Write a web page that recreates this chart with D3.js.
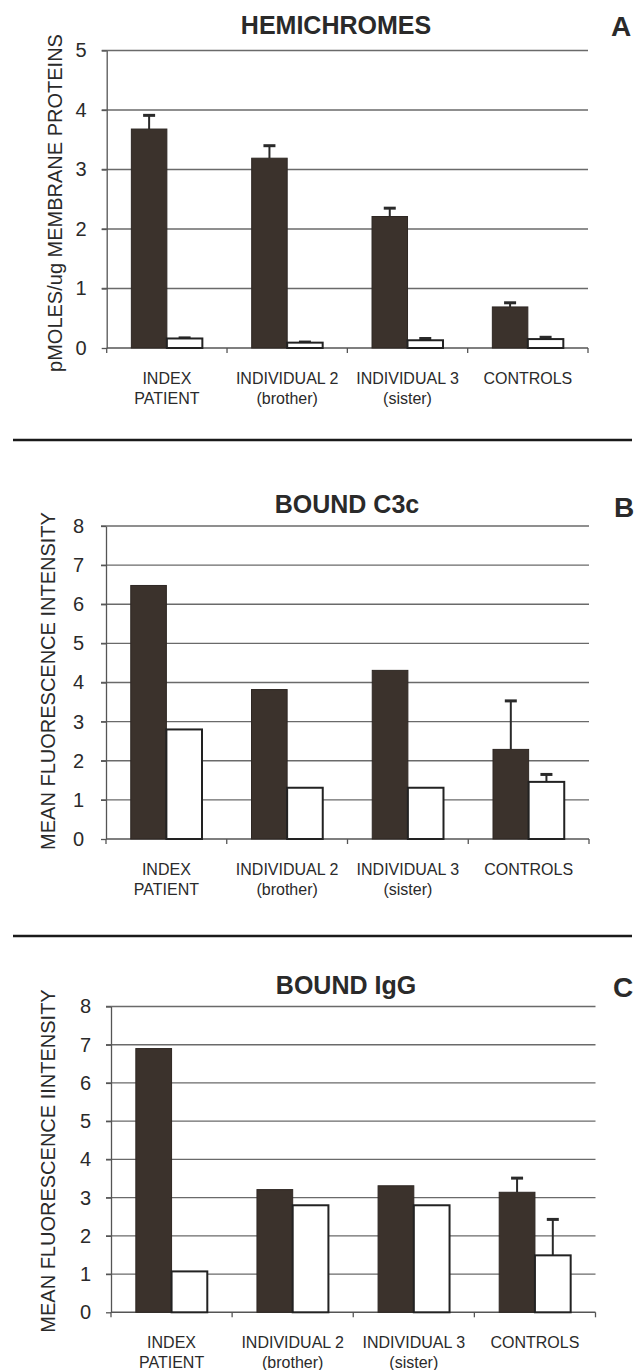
<!DOCTYPE html>
<html>
<head>
<meta charset="utf-8">
<script src="https://cdn.jsdelivr.net/npm/d3@7"></script>
<style>
  html, body { margin: 0; padding: 0; background: #fff; }
  svg { display: block; }
  text { font-family: "Liberation Sans", Arial, Helvetica, sans-serif; fill: #2a2a2a; }
</style>
</head>
<body>
<svg id="chart" width="641" height="1370"></svg>
<script>
// ---------- data ----------
const categories = ["INDEX", "INDIVIDUAL 2", "INDIVIDUAL 3", "CONTROLS"];
const categorySub = ["PATIENT", "(brother)", "(sister)", ""];
const series = ["dark", "white"];

const panelTitles = ["HEMICHROMES", "BOUND C3c", "BOUND IgG"];
const panelLetters = ["A", "B", "C"];
const yLabels = ["pMOLES/ug MEMBRANE PROTEINS", "MEAN FLUORESCENCE INTENSITY", "MEAN FLUORESCENCE IINTENSITY"];
const yMaxes = [5, 8, 8];

const hemiDark = [3.68, 3.19, 2.21, 0.69];
const hemiDarkErr = [0.23, 0.21, 0.14, 0.07];
const hemiWhite = [0.16, 0.09, 0.13, 0.15];
const hemiWhiteErr = [0.01, 0.01, 0.03, 0.03];

const c3Dark = [6.48, 3.82, 4.31, 2.29];
const c3DarkErr = [0, 0, 0, 1.24];
const c3White = [2.80, 1.31, 1.31, 1.46];
const c3WhiteErr = [0, 0, 0, 0.19];

const iggDark = [6.90, 3.21, 3.31, 3.14];
const iggDarkErr = [0, 0, 0, 0.37];
const iggWhite = [1.07, 2.80, 2.80, 1.49];
const iggWhiteErr = [0, 0, 0, 0.94];

const panelData = [
  {dark: hemiDark, darkErr: hemiDarkErr, white: hemiWhite, whiteErr: hemiWhiteErr},
  {dark: c3Dark, darkErr: c3DarkErr, white: c3White, whiteErr: c3WhiteErr},
  {dark: iggDark, darkErr: iggDarkErr, white: iggWhite, whiteErr: iggWhiteErr}
];

// ---------- layout ----------
const layouts = [
  {left: 106.7, right: 588, bottom: 348, top: 50.5, titleX: 336, titleY: 34, letterX: 621, letterY: 36, ylabX: 61.5, ylabY: 203, tickPad: 20},
  {left: 106, right: 589, bottom: 839, top: 526, titleX: 347, titleY: 513, letterX: 624, letterY: 517, ylabX: 55, ylabY: 681, tickPad: 22},
  {left: 111, right: 595.5, bottom: 1312.3, top: 1006.5, titleX: 346, titleY: 994, letterX: 623, letterY: 997, ylabX: 55, ylabY: 1161, tickPad: 20}
];
const separators = [440, 936];

const svg = d3.select("#chart");

separators.forEach(y => {
  svg.append("line").attr("x1", 13).attr("x2", 632).attr("y1", y).attr("y2", y)
    .attr("stroke", "#1a1a1a").attr("stroke-width", 2.5);
});

layouts.forEach((L, i) => {
  const g = svg.append("g");
  const d = panelData[i];
  const y = d3.scaleLinear().domain([0, yMaxes[i]]).range([L.bottom, L.top]);
  const x = d3.scaleBand().domain(categories).range([L.left, L.right]).paddingInner(0).paddingOuter(0);
  const bw = x.bandwidth();
  const pairW = bw * 0.59;
  const x1 = d3.scaleBand().domain(series).range([0, pairW]);
  const ticks = d3.range(0, yMaxes[i] + 1);

  // gridlines
  g.append("g").selectAll("line").data(ticks.filter(t => t > 0)).join("line")
    .attr("x1", L.left - 5).attr("x2", L.right)
    .attr("y1", t => y(t)).attr("y2", t => y(t))
    .attr("stroke", "#6a6a6a").attr("stroke-width", 1.3);

  // y axis
  const yAxis = g.append("g").attr("transform", `translate(${L.left},0)`)
    .call(d3.axisLeft(y).tickValues(ticks).tickFormat(d3.format("d")).tickSize(5).tickSizeOuter(0).tickPadding(L.tickPad - 5));
  yAxis.select(".domain").attr("stroke", "#555").attr("stroke-width", 1.3);
  yAxis.selectAll(".tick line").attr("stroke", "#555").attr("stroke-width", 1.3);
  yAxis.selectAll(".tick text").style("font-size", "20px").attr("fill", "#2a2a2a")
    .style("font-family", "'Liberation Sans', Arial, sans-serif");

  // x axis baseline with boundary ticks
  const bounds = categories.map(c => x(c)).concat([L.right]);
  g.append("line").attr("x1", L.left).attr("x2", L.right).attr("y1", L.bottom).attr("y2", L.bottom)
    .attr("stroke", "#555").attr("stroke-width", 1.5);
  g.append("g").selectAll("line").data(bounds).join("line")
    .attr("x1", b => b).attr("x2", b => b).attr("y1", L.bottom).attr("y2", L.bottom + 5)
    .attr("stroke", "#555").attr("stroke-width", 1.3);

  // bars
  const rows = categories.map((c, k) => ({
    cat: c,
    vals: [
      {s: "dark", v: d.dark[k], e: d.darkErr[k]},
      {s: "white", v: d.white[k], e: d.whiteErr[k]}
    ]
  }));
  const groups = g.append("g").selectAll("g").data(rows).join("g")
    .attr("transform", r => `translate(${x(r.cat) + (bw - pairW) / 2},0)`);

  // error bars (drawn behind bars' top edge)
  groups.each(function(r) {
    const gg = d3.select(this);
    r.vals.forEach(o => {
      if (o.e > 0) {
        const cx = x1(o.s) + x1.bandwidth() / 2;
        gg.append("line").attr("x1", cx).attr("x2", cx).attr("y1", y(o.v)).attr("y2", y(o.v + o.e))
          .attr("stroke", "#2a2a2a").attr("stroke-width", 2);
        gg.append("line").attr("x1", cx - 6).attr("x2", cx + 6).attr("y1", y(o.v + o.e)).attr("y2", y(o.v + o.e))
          .attr("stroke", "#2a2a2a").attr("stroke-width", 3);
      }
    });
  });

  groups.selectAll("rect").data(r => r.vals).join("rect")
    .attr("x", o => x1(o.s))
    .attr("width", x1.bandwidth())
    .attr("y", o => y(o.v))
    .attr("height", o => L.bottom - y(o.v))
    .attr("fill", o => o.s === "dark" ? "#3b322c" : "#ffffff")
    .attr("stroke", o => o.s === "dark" ? "#2e2723" : "#222")
    .attr("stroke-width", o => o.s === "dark" ? 1 : 2);

  // category labels
  const lab = g.append("g").selectAll("text").data(categories).join("text")
    .attr("x", c => x(c) + bw / 2)
    .attr("text-anchor", "middle")
    .style("font-size", "16px");
  lab.append("tspan").attr("x", c => x(c) + bw / 2).attr("y", L.bottom + 35.5).text(c => c);
  lab.append("tspan").attr("x", c => x(c) + bw / 2).attr("y", L.bottom + 55.5).text((c, k) => categorySub[k]);

  // title and letter
  g.append("text").attr("x", L.titleX).attr("y", L.titleY).attr("text-anchor", "middle")
    .style("font-size", "25px").style("font-weight", "bold").text(panelTitles[i]);
  g.append("text").attr("x", L.letterX).attr("y", L.letterY).attr("text-anchor", "middle")
    .style("font-size", "28px").style("font-weight", "bold").text(panelLetters[i]);

  // y label
  g.append("text").attr("transform", `translate(${L.ylabX},${L.ylabY}) rotate(-90)`)
    .attr("text-anchor", "middle").style("font-size", "20px").text(yLabels[i]);
});
</script>
</body>
</html>
